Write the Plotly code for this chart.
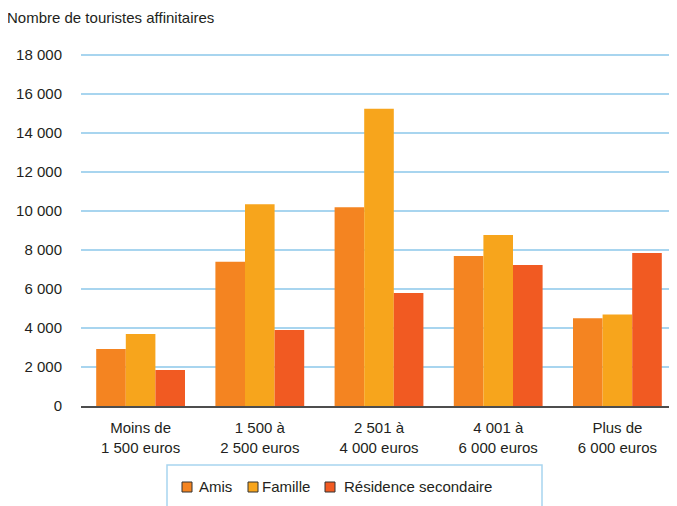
import plotly.graph_objects as go

categories = ["Moins de<br>1 500 euros", "1 500 à<br>2 500 euros", "2 501 à<br>4 000 euros",
              "4 001 à<br>6 000 euros", "Plus de<br>6 000 euros"]
amis = [2920, 7400, 10200, 7700, 4500]
famille = [3700, 10350, 15250, 8770, 4700]
residence = [1850, 3900, 5800, 7230, 7850]

series = [("Amis", amis, "#F48421"),
          ("Famille", famille, "#F7A51C"),
          ("Résidence secondaire", residence, "#F15A22")]

FONT = "Liberation Sans, Arial, Helvetica, sans-serif"
GRID = "#A8D5EF"

# page pixel -> paper coords (plot area spans x 81..677, y 54..406 on the page)
def px(x):
    return (x - 81) / 596

def py(y):
    return (406 - y) / 352

fig = go.Figure()
for name, vals, col in series:
    fig.add_trace(go.Bar(x=categories, y=vals, name=name, marker=dict(color=col, line=dict(width=0)),
                         hoverinfo="none"))

# hand-made legend, tighter than plotly's own
shapes = [dict(type="rect", xref="paper", yref="paper", x0=px(167), x1=px(542),
               y0=py(512), y1=py(465), line=dict(color=GRID, width=1.5))]
annotations = [dict(text="Nombre de touristes affinitaires", xref="paper", yref="paper",
                    x=px(5), y=py(18), xanchor="left", yanchor="middle", showarrow=False,
                    font=dict(size=15))]
swatch_x = [182, 248, 325]
text_x = [197, 260, 342]
for (name, vals, col), sx, tx in zip(series, swatch_x, text_x):
    shapes.append(dict(type="rect", xref="paper", yref="paper", x0=px(sx), x1=px(sx + 10),
                       y0=py(492), y1=py(482), fillcolor=col, line=dict(color="#333333", width=1)))
    annotations.append(dict(text=name, xref="paper", yref="paper", x=px(tx), y=py(487),
                            xanchor="left", yanchor="middle", showarrow=False, font=dict(size=15)))

fig.update_layout(
    width=669, height=498,
    margin=dict(l=73, r=0, t=46, b=100),
    barmode="group", bargap=0.255, bargroupgap=0,
    plot_bgcolor="white", paper_bgcolor="white",
    separators=", ",
    showlegend=False,
    font=dict(family=FONT, size=15, color="#231F20"),
    xaxis=dict(showgrid=False, showline=True, linecolor="#4D4D4D", linewidth=2,
               ticks="outside", ticklen=7, tickcolor="rgba(0,0,0,0)", tickfont=dict(size=15)),
    yaxis=dict(range=[0, 18060], tickvals=list(range(0, 18001, 2000)), tickformat=",d",
               showgrid=True, gridcolor=GRID, gridwidth=1.5, zeroline=False, showline=False,
               ticks="outside", ticklen=15, tickcolor="rgba(0,0,0,0)", tickfont=dict(size=15)),
    annotations=annotations,
    shapes=shapes,
)

fig.write_html("out.html")
